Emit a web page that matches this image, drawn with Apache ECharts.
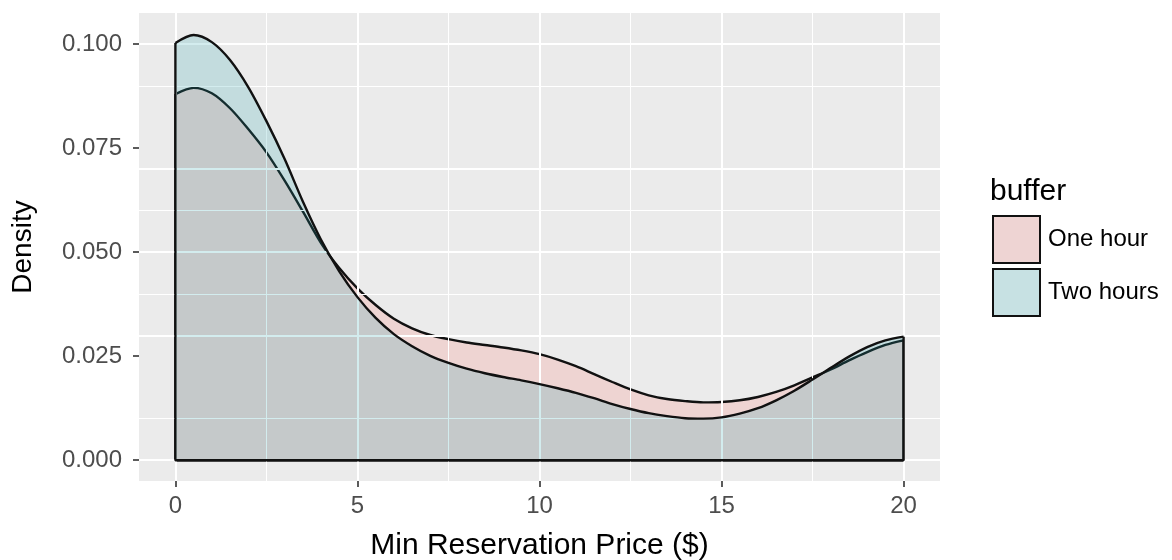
<!DOCTYPE html>
<html>
<head>
<meta charset="utf-8">
<script src="https://cdn.jsdelivr.net/npm/echarts@6/dist/echarts.min.js"></script>
<style>
html,body{margin:0;padding:0;background:#fff;}
#chart{width:1172px;height:560px;}
</style>
</head>
<body>
<div id="chart"></div>
<script>
// ---- data ----
const xPoints = [0, 0.5, 1, 1.5, 2, 2.5, 3, 3.5, 4, 4.5, 5, 5.5, 6, 6.5, 7, 7.5, 8, 8.5, 9, 9.5, 10,
  10.5, 11, 11.5, 12, 12.5, 13, 13.5, 14, 14.5, 15, 15.5, 16, 16.5, 17, 17.5, 18, 18.5, 19, 19.5, 20];
const oneHour = [0.0880, 0.0895, 0.0882, 0.0846, 0.0796, 0.0740, 0.0672, 0.0598, 0.0522, 0.0462, 0.0413,
  0.0373, 0.0340, 0.0317, 0.0301, 0.0291, 0.0283, 0.0277, 0.0271, 0.0264, 0.0255,
  0.0242, 0.0226, 0.0207, 0.0188, 0.0170, 0.0156, 0.0147, 0.0142, 0.0139, 0.0140,
  0.0144, 0.0152, 0.0164, 0.0180, 0.0199, 0.0218, 0.0240, 0.0260, 0.0277, 0.0288];
const twoHours = [0.1003, 0.1022, 0.1005, 0.0962, 0.0897, 0.0815, 0.0724, 0.0622, 0.0530, 0.0454, 0.0392,
  0.0342, 0.0303, 0.0274, 0.0251, 0.0234, 0.0220, 0.0209, 0.0200, 0.0192, 0.0183,
  0.0173, 0.0162, 0.0149, 0.0135, 0.0123, 0.0113, 0.0106, 0.0101, 0.0100, 0.0103,
  0.0112, 0.0125, 0.0144, 0.0167, 0.0194, 0.0222, 0.0249, 0.0272, 0.0288, 0.0297];
const seriesNames = ['One hour', 'Two hours'];
const xTicks = [0, 5, 10, 15, 20];
const xMinor = [2.5, 7.5, 12.5, 17.5];
const yTicks = [0, 0.025, 0.05, 0.075, 0.1];
const yMinor = [0.0125, 0.0375, 0.0625, 0.0875];

// ---- styles ----
const fills = ['rgba(248,118,109,0.2)', 'rgba(36,160,168,0.2)'];
const keyFills = ['#EED4D3', '#C7E1E3'];
const FONT = '"Liberation Sans", Arial, Helvetica, sans-serif';

function pairs(ys) { return xPoints.map((x, i) => [x, ys[i]]); }
function outline(ys) {
  const n = xPoints.length - 1;
  return [[xPoints[0], ys[0]], [xPoints[0], 0], [xPoints[n], 0], [xPoints[n], ys[n]]];
}

const gridLines = []
  .concat(xTicks.map(v => ({ xAxis: v, lineStyle: { width: 2 } })))
  .concat(xMinor.map(v => ({ xAxis: v, lineStyle: { width: 1 } })))
  .concat(yTicks.map(v => ({ yAxis: v, lineStyle: { width: 2 } })))
  .concat(yMinor.map(v => ({ yAxis: v, lineStyle: { width: 1 } })));

const groups = [oneHour, twoHours];
const series = [{
  type: 'line', name: '_grid', data: [], z: 1, silent: true,
  markLine: {
    silent: true, symbol: ['none', 'none'], label: { show: false },
    lineStyle: { color: '#ffffff', type: 'solid' },
    emphasis: { disabled: true },
    data: gridLines
  }
}];
groups.forEach((ys, i) => {
  series.push({
    type: 'line', name: seriesNames[i], data: pairs(ys), smooth: 0.3,
    symbol: 'none', z: 3 + i * 2, color: keyFills[i],
    lineStyle: { color: '#111', width: 2.4 },
    areaStyle: { color: fills[i], origin: 0, opacity: 1 },
    emphasis: { disabled: true }
  });
  series.push({
    type: 'line', name: '_edge' + i, data: outline(ys), smooth: false,
    symbol: 'none', z: 4 + i * 2,
    lineStyle: { color: '#111', width: 2.4 },
    emphasis: { disabled: true }
  });
});

const chart = echarts.init(document.getElementById('chart'), null, { renderer: 'canvas' });
chart.setOption({
  animation: false,
  backgroundColor: '#ffffff',
  textStyle: { fontFamily: FONT },
  title: {
    text: 'buffer', left: 990, top: 177, padding: 0,
    textStyle: { fontSize: 30, fontWeight: 'normal', color: '#000', fontFamily: FONT }
  },
  legend: {
    orient: 'vertical', left: 992, top: 215, itemWidth: 47, itemHeight: 47, itemGap: 4,
    padding: 0, selectedMode: false,
    textStyle: { fontSize: 24, color: '#000', fontFamily: FONT, padding: [0, 0, 0, 3] },
    data: seriesNames.map((n, i) => ({
      name: n, icon: 'rect',
      itemStyle: { color: keyFills[i], borderColor: '#111', borderWidth: 2 }
    }))
  },
  grid: {
    left: 139, right: 232, top: 13, bottom: 79,
    outerBoundsMode: 'none', containLabel: false,
    show: true, backgroundColor: '#EBEBEB', borderWidth: 0
  },
  xAxis: {
    type: 'value', min: -1, max: 21,
    name: 'Min Reservation Price ($)', nameLocation: 'middle', nameGap: 50,
    nameTextStyle: { fontSize: 30, color: '#000', fontFamily: FONT },
    axisLine: { show: false, onZero: false },
    axisTick: { show: true, length: 6, lineStyle: { color: '#333', width: 1.6 }, customValues: xTicks },
    axisLabel: { fontSize: 24, color: '#4D4D4D', margin: 13, customValues: xTicks, fontFamily: FONT },
    splitLine: { show: false }
  },
  yAxis: {
    type: 'value', min: -0.005, max: 0.1075,
    name: 'Density', nameLocation: 'middle', nameGap: 102,
    nameTextStyle: { fontSize: 28, color: '#000', fontFamily: FONT },
    axisLine: { show: false, onZero: false },
    axisTick: { show: true, length: 6, lineStyle: { color: '#333', width: 1.6 }, customValues: yTicks },
    axisLabel: {
      fontSize: 24, color: '#4D4D4D', margin: 17, customValues: yTicks, fontFamily: FONT,
      formatter: v => v.toFixed(3)
    },
    splitLine: { show: false }
  },
  series: series
});
</script>
</body>
</html>
